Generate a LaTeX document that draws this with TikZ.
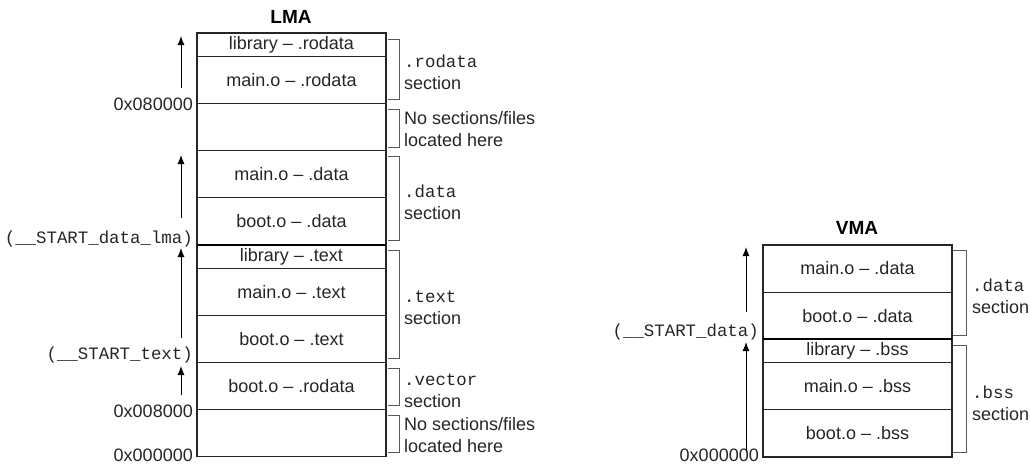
\documentclass[tikz,border=0pt]{standalone}
\usepackage{fontspec}
\setmainfont{Liberation Sans}
\setmonofont{Liberation Mono}
\usetikzlibrary{arrows.meta}
\begin{document}
\begin{tikzpicture}[x=1pt,y=-1pt,
  cell/.style={draw=black!85, line width=1.1pt, minimum width=189pt, inner sep=0pt, outer sep=0pt,
    anchor=north west, font=\fontsize{18}{20}\selectfont, text=black!85},
  one/.style={cell, minimum height=23.55pt},
  two/.style={cell, minimum height=47.1pt},
  title/.style={font=\fontsize{19}{20}\selectfont\bfseries, text=black},
  addr/.style={anchor=east, inner sep=0pt, font=\fontsize{18}{20}\selectfont, text=black!85},
  sym/.style={anchor=east, inner sep=0pt, font=\fontsize{17.4}{20}\ttfamily, text=black!85},
  note/.style={anchor=west, inner sep=0pt, align=left, font=\fontsize{18}{22}\selectfont, text=black!85},
  brk/.style={draw=black!65, line width=0.9pt},
  up/.style={draw=black, line width=1pt, -{Latex[length=9pt,width=7pt]}},
  thick/.style={draw=black, line width=2pt}]
\useasboundingbox (0,0) rectangle (1030,464);

% ---------- LMA ----------
\node[title] (lma) at (291,17) {LMA};
\node[one] (lr) at (197,33) {library -- .rodata};
\node[two] (mr) at (lr.south west) {main.o -- .rodata};
\node[two] (e1) at (mr.south west) {};
\node[two] (md) at (e1.south west) {main.o -- .data};
\node[two] (bd) at (md.south west) {boot.o -- .data};
\node[one] (lt) at (bd.south west) {library -- .text};
\node[two] (mt) at (lt.south west) {main.o -- .text};
\node[two] (bt) at (mt.south west) {boot.o -- .text};
\node[two] (br) at (bt.south west) {boot.o -- .rodata};
\node[two] (e2) at (br.south west) {};
\draw[thick] (bd.south west) -- (bd.south east);

% address labels
\node[addr] (l1) at (193,104) {0x080000};
\node[sym]  (l2) at (193,239) {(\_\_START\_data\_lma)};
\node[sym]  (l3) at (193,355) {(\_\_START\_text)};
\node[addr] (l4) at (193,411) {0x008000};
\node[addr] (l5) at (193,455) {0x000000};

% arrows
\coordinate (a1t) at (181,88);  \coordinate (a1h) at (181,36);
\coordinate (a2t) at (181,218); \coordinate (a2h) at (181,155);
\coordinate (a3t) at (181,338); \coordinate (a3h) at (181,248);
\coordinate (a4t) at (181,395); \coordinate (a4h) at (181,366);
\draw[up] (a1t) -- (a1h);
\draw[up] (a2t) -- (a2h);
\draw[up] (a3t) -- (a3h);
\draw[up] (a4t) -- (a4h);

% brackets
\draw[brk] (388,39) -- (399,39) -- (399,99) -- (388,99);
\draw[brk] (388,109) -- (399,109) -- (399,147) -- (388,147);
\draw[brk] (388,156) -- (399,156) -- (399,240) -- (388,240);
\draw[brk] (388,250) -- (399,250) -- (399,358) -- (388,358);
\draw[brk] (388,368) -- (399,368) -- (399,405) -- (388,405);
\draw[brk] (388,415) -- (399,415) -- (399,452) -- (388,452);

\node[note] (n1) at (404,72) {\fontsize{17.4}{22}\ttfamily .rodata\\section};
\node[note] (n2) at (404,129.5) {No sections/files\\located here};
\node[note] (n3) at (404,202) {\fontsize{17.4}{22}\ttfamily .data\\section};
\node[note] (n4) at (404,308) {\fontsize{17.4}{22}\ttfamily .text\\section};
\node[note] (n5) at (404,391) {\fontsize{17.4}{22}\ttfamily .vector\\section};
\node[note] (n6) at (404,435) {No sections/files\\located here};

% ---------- VMA ----------
\node[title] (vma) at (857,228) {VMA};
\node[two] (vmd) at (763,245) {main.o -- .data};
\node[two] (vbd) at (vmd.south west) {boot.o -- .data};
\node[one] (vlb) at (vbd.south west) {library -- .bss};
\node[two] (vmb) at (vlb.south west) {main.o -- .bss};
\node[two] (vbb) at (vmb.south west) {boot.o -- .bss};
\draw[thick] (vbd.south west) -- (vbd.south east);

\node[sym]  (v1) at (759,332) {(\_\_START\_data)};
\node[addr] (v2) at (759,455) {0x000000};

\coordinate (b1t) at (746,312); \coordinate (b1h) at (746,247);
\coordinate (b2t) at (746,452); \coordinate (b2h) at (746,342);
\draw[up] (b1t) -- (b1h);
\draw[up] (b2t) -- (b2h);

\draw[brk] (953,250) -- (966,250) -- (966,335) -- (953,335);
\draw[brk] (953,345) -- (966,345) -- (966,452) -- (953,452);
\node[note] (vn1) at (972,296.5) {\fontsize{17.4}{22}\ttfamily .data\\section};
\node[note] (vn2) at (972,403) {\fontsize{17.4}{22}\ttfamily .bss\\section};
\end{tikzpicture}
\end{document}
